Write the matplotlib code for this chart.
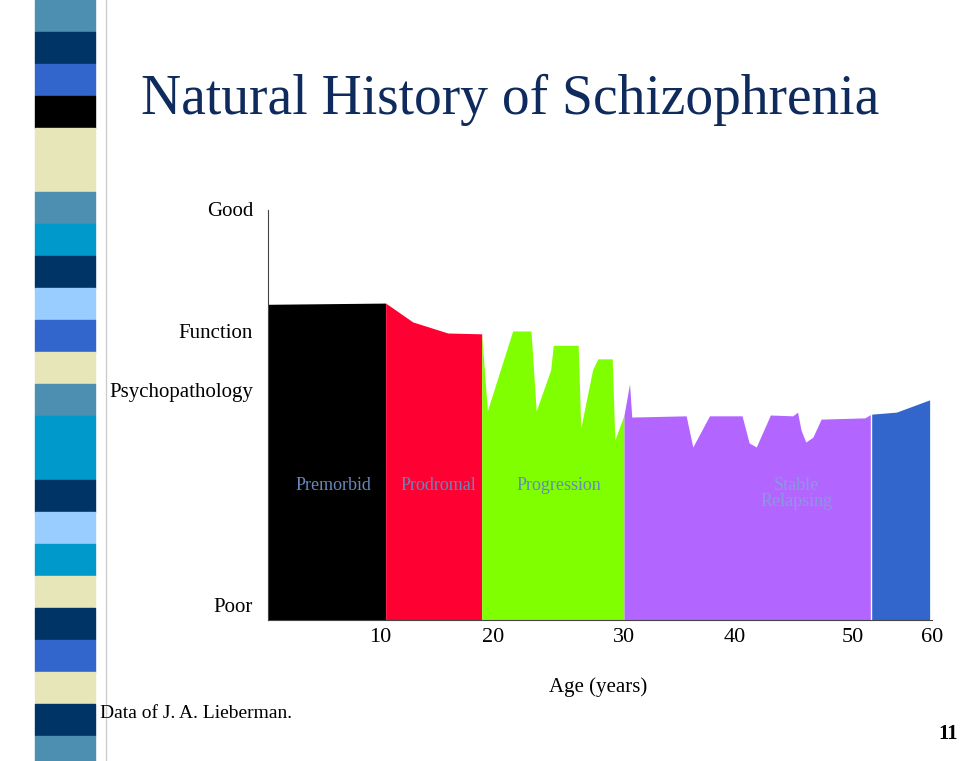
import numpy as np
import matplotlib
matplotlib.use("Agg")
import matplotlib.pyplot as plt
from matplotlib.patches import Rectangle

plt.rcParams["font.family"] = "Liberation Serif"

# tick anchors (age -> horizontal position on slide)
tick_ages = [0, 10, 20, 30, 40, 50, 60]
tick_pos = [268, 380, 493, 624, 735, 853, 932]
tick_labels = ["10", "20", "30", "40", "50", "60"]

phases = ["Premorbid", "Prodromal", "Progression", "Stable\nRelapsing", ""]
phase_colors = ["#000000", "#ff0033", "#80ff00", "#b366ff", "#3366cc"]
phase_label_x = [5.8, 15.2, 25.0, 45.2]

premorbid_age = [0, 10.5]
premorbid_val = [77, 77.3]
prodromal_age = [10.5, 12.9, 16.0, 19.0]
prodromal_val = [77.3, 72.7, 70.0, 69.8]
progression_age = [19.0, 19.5, 21.5, 22.9, 23.3, 24.4, 24.6, 26.5, 26.7, 27.6, 28.0, 29.1, 29.3, 30.0]
progression_val = [69.8, 51, 70.5, 70.5, 51, 61, 67, 67, 46.8, 61, 63.7, 63.7, 43.9, 50]
stable_age = [30.0, 30.5, 30.7, 35.6, 36.2, 37.7, 40.6, 41.2, 41.8, 43.0, 44.9, 45.3, 45.6, 46.0, 46.6, 47.3, 51.5, 52.3]
stable_val = [50, 57.6, 49.5, 49.8, 42.2, 49.8, 49.8, 43.2, 42.2, 50, 49.8, 50.7, 46.3, 43.4, 44.6, 49, 49.3, 50.2]
late_age = [52.3, 55.5, 59.7]
late_val = [50.2, 50.7, 53.7]

strip_colors = ["#4c8fb0", "#003366", "#3366cc", "#000000", "#e6e6b8", "#e6e6b8",
                "#4c8fb0", "#0099cc", "#003366", "#99ccff", "#3366cc", "#e6e6b8",
                "#4c8fb0", "#0099cc", "#0099cc", "#003366", "#99ccff", "#0099cc",
                "#e6e6b8", "#003366", "#3366cc", "#e6e6b8", "#003366", "#4c8fb0"]

W, H = 960, 761
fig = plt.figure(figsize=(9.6, 7.61), dpi=100)

# decorative strip
for i, c in enumerate(strip_colors):
    fig.patches.append(Rectangle((35 / W, 1 - (i + 1) * 32 / H), 60 / W, 32 / H,
                                 transform=fig.transFigure, color=c, zorder=0))
fig.add_artist(plt.Line2D([106 / W, 106 / W], [0, 1], color="#cccccc", lw=1))

ax = fig.add_axes([268 / W, (H - 620) / H, 664 / W, 410 / H])
fwd = lambda a: np.interp(a, tick_ages, tick_pos)
inv = lambda p: np.interp(p, tick_pos, tick_ages)
ax.set_xscale("function", functions=(fwd, inv))
ax.set_xlim(0, 60)
ax.set_ylim(0, 100)

segs = [(premorbid_age, premorbid_val), (prodromal_age, prodromal_val),
        (progression_age, progression_val), (stable_age, stable_val), (late_age, late_val)]
for (a, v), c in zip(segs, phase_colors):
    ax.fill_between(a, 0, v, color=c, lw=0)
ax.axvline(52.3, color="white", lw=1)

pcol = ["#6688bb", "#6688bb", "#6688bb", "#8899dd"]
for x, t, c in zip(phase_label_x, phases, pcol):
    ax.text(x, 35, t, ha="center", va="top", fontsize=13, color=c, linespacing=1.0)

for s in ["top", "right"]:
    ax.spines[s].set_visible(False)
ax.spines["left"].set_color("#444444")
ax.spines["bottom"].set_color("#444444")
ax.set_yticks([])
ax.set_xticks([10, 20, 30, 40, 50, 60])
ax.set_xticklabels(tick_labels, fontsize=16)
ax.tick_params(axis="x", length=0, pad=6)

fig.text(510 / W, 1 - 100 / H, "Natural History of Schizophrenia", ha="center", va="center",
         fontsize=40, color="#0f2a5c")
for t, y in [("Good", 211), ("Function", 333), ("Psychopathology", 392), ("Poor", 607)]:
    fig.text(253 / W, 1 - y / H, t, ha="right", va="center", fontsize=15)
fig.text(598 / W, 1 - 687 / H, "Age (years)", ha="center", va="center", fontsize=15)
fig.text(100 / W, 1 - 713 / H, "Data of J. A. Lieberman.", ha="left", va="center", fontsize=14)
fig.text(958 / W, 1 - 734 / H, "11", ha="right", va="center", fontsize=15, fontweight="bold")

fig.savefig("out.png", dpi=100)
